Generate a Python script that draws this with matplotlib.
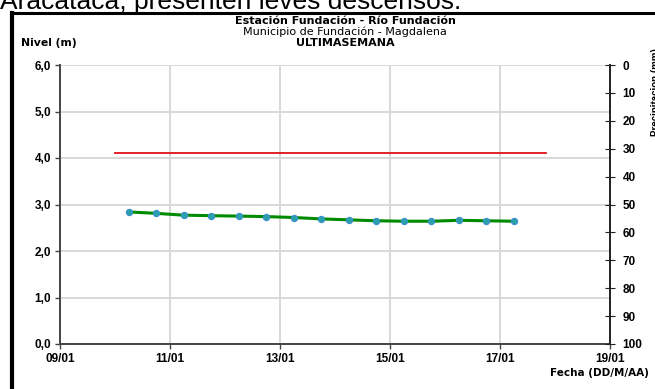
import matplotlib
matplotlib.use("Agg")
import matplotlib.pyplot as plt
import matplotlib.dates as mdates
from matplotlib.lines import Line2D
import pandas as pd

plt.rcParams['font.family'] = ['Liberation Sans', 'DejaVu Sans']

# readings (twice a day)
fechas = ["2019-01-10 06:00", "2019-01-10 18:00", "2019-01-11 06:00", "2019-01-11 18:00",
          "2019-01-12 06:00", "2019-01-12 18:00", "2019-01-13 06:00", "2019-01-13 18:00",
          "2019-01-14 06:00", "2019-01-14 18:00", "2019-01-15 06:00", "2019-01-15 18:00",
          "2019-01-16 06:00", "2019-01-16 18:00", "2019-01-17 06:00"]
nivel = [2.84, 2.81, 2.77, 2.76, 2.75, 2.74, 2.72, 2.69,
         2.67, 2.65, 2.64, 2.64, 2.66, 2.65, 2.64]

# alert level line
alerta_fechas = ["2019-01-10 00:00", "2019-01-17 20:00"]
alerta_nivel = [4.1, 4.1]

x_ticks = ["2019-01-09", "2019-01-11", "2019-01-13", "2019-01-15", "2019-01-17", "2019-01-19"]

fig = plt.figure(figsize=(6.55, 3.89), dpi=100)
ax = fig.add_axes([60/655, 1-344/389, (610-60)/655, (344-65)/389])

t = pd.to_datetime(fechas)
ta = pd.to_datetime(alerta_fechas)
ax.plot(ta, alerta_nivel, color='#e01018', lw=1.3, zorder=3)
ax.plot(t, nivel, color='#008a00', lw=2.2, marker='o', ms=4.5,
        mfc='#2aa0a8', mec='#3a90d0', mew=0.8, zorder=4)

ax.set_xlim(pd.Timestamp("2019-01-09"), pd.Timestamp("2019-01-19"))
ax.set_ylim(0, 6)
ax.set_xticks(pd.to_datetime(x_ticks))
ax.xaxis.set_major_formatter(mdates.DateFormatter('%d/%m'))
ax.set_yticks([0, 1, 2, 3, 4, 5, 6])
ax.set_yticklabels([f"{v:.1f}".replace('.', ',') for v in range(7)])
ax.grid(True, color='#d6d6d6', lw=1.3)
ax.set_axisbelow(True)
for s in ['left', 'bottom']:
    ax.spines[s].set_color('#444444')
    ax.spines[s].set_linewidth(1.4)
ax.spines['top'].set_visible(False)
ax.spines['right'].set_visible(False)
ax.tick_params(axis='both', labelsize=8.5, length=3.5, color='#444444', width=1, pad=3)
for lab in ax.get_xticklabels() + ax.get_yticklabels():
    lab.set_fontweight('bold')

ax2 = ax.twinx()
ax2.set_ylim(100, 0)
ax2.set_yticks(range(0, 101, 10))
ax2.tick_params(axis='y', direction='inout', length=7, labelsize=8.5, color='#222222', pad=5.5)
for lab in ax2.get_yticklabels():
    lab.set_fontweight('bold')
for s in ['left', 'bottom', 'top']:
    ax2.spines[s].set_visible(False)
ax2.spines['right'].set_color('#222222')
ax2.spines['right'].set_linewidth(1.4)

wide = ['DejaVu Sans']
fig.text(345/655, 1-21/389, "Estación Fundación - Río Fundación", ha='center', va='center',
         fontsize=8, fontweight='bold', family=wide)
fig.text(345/655, 1-32/389, "Municipio de Fundación - Magdalena", ha='center', va='center',
         fontsize=8, family=wide)
fig.text(345/655, 1-43/389, "ULTIMASEMANA", ha='center', va='center',
         fontsize=8, fontweight='bold', family=wide)
fig.text(21/655, 1-43/389, "Nivel (m)", ha='left', va='center', fontsize=7.8,
         fontweight='bold', family=wide)
fig.text(649/655, 1-373/389, "Fecha (DD/M/AA)", ha='right', va='center', fontsize=7.5,
         fontweight='bold', family=wide)
fig.text(651/655, 1-92/389, "Precipitacion (mm)", ha='left', va='center', rotation=90,
         fontsize=7, fontweight='bold')

# page text above the chart box
fig.text(0, 1-8.5/389, "Aracataca, presenten leves descensos.", ha='left', va='baseline',
         fontsize=19)

# chart box border
fig.add_artist(Line2D([11/655, 1], [1-12.5/389, 1-12.5/389], color='black', lw=2.2,
                      transform=fig.transFigure))
fig.add_artist(Line2D([12/655, 12/655], [1-12.5/389, 0], color='black', lw=3,
                      transform=fig.transFigure))

fig.savefig("out.png", dpi=100)
